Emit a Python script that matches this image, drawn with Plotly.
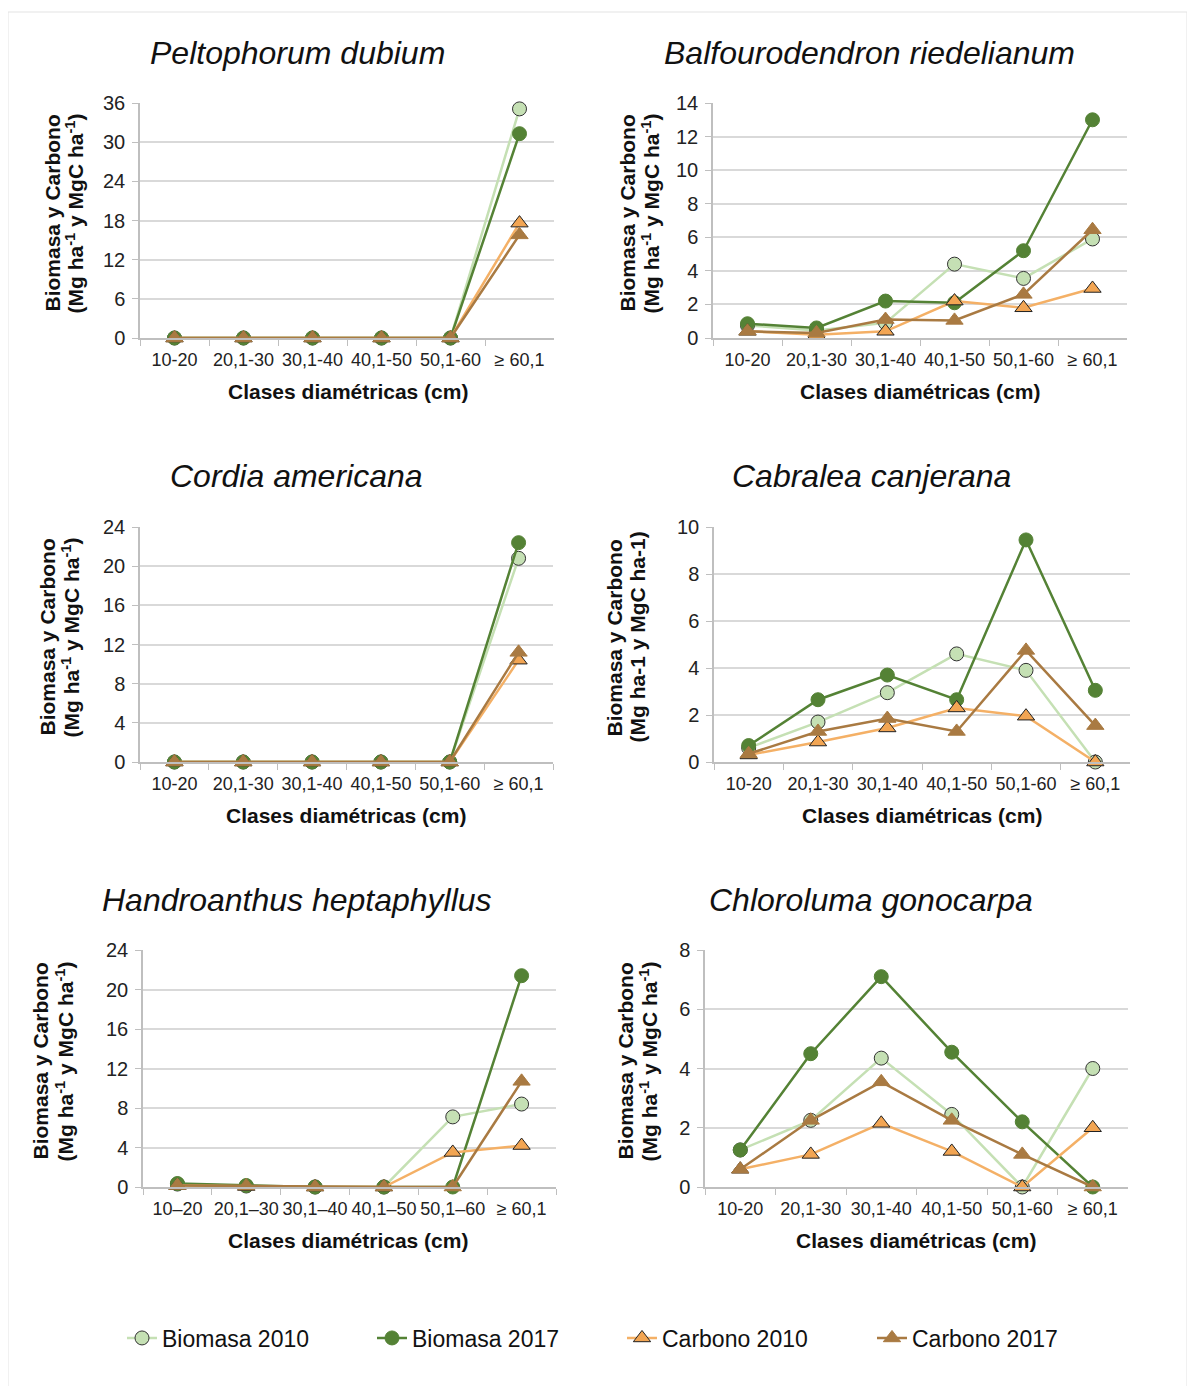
import plotly.graph_objects as go

W, H = 1195, 1386
OFF = 8  # page body margin offset in the browser

cats = ["10-20", "20,1-30", "30,1-40", "40,1-50", "50,1-60", "≥ 60,1"]
cats_dash = ["10–20", "20,1–30", "30,1–40", "40,1–50", "50,1–60", "≥ 60,1"]

series_names = ["Biomasa 2010", "Biomasa 2017", "Carbono 2010", "Carbono 2017"]

titles = ["Peltophorum dubium", "Balfourodendron riedelianum", "Cordia americana",
          "Cabralea canjerana", "Handroanthus heptaphyllus", "Chloroluma gonocarpa"]

# Peltophorum dubium
p1_b2010 = [0, 0, 0, 0, 0, 35.1]
p1_b2017 = [0, 0, 0, 0, 0, 31.3]
p1_c2010 = [0, 0, 0, 0, 0, 17.6]
p1_c2017 = [0, 0, 0, 0, 0, 15.8]
# Balfourodendron riedelianum
p2_b2010 = [0.75, 0.45, 0.9, 4.4, 3.55, 5.9]
p2_b2017 = [0.85, 0.6, 2.2, 2.1, 5.2, 13.0]
p2_c2010 = [0.4, 0.2, 0.4, 2.2, 1.8, 2.95]
p2_c2017 = [0.4, 0.3, 1.1, 1.05, 2.6, 6.45]
# Cordia americana
p3_b2010 = [0, 0, 0, 0, 0, 20.8]
p3_b2017 = [0, 0, 0, 0, 0, 22.4]
p3_c2010 = [0, 0, 0, 0, 0, 10.4]
p3_c2017 = [0, 0, 0, 0, 0, 11.2]
# Cabralea canjerana
p4_b2010 = [0.6, 1.7, 2.95, 4.6, 3.9, 0.0]
p4_b2017 = [0.7, 2.65, 3.7, 2.65, 9.45, 3.05]
p4_c2010 = [0.3, 0.85, 1.45, 2.3, 1.95, 0.0]
p4_c2017 = [0.35, 1.3, 1.85, 1.3, 4.75, 1.55]
# Handroanthus heptaphyllus
p5_b2010 = [0.3, 0.1, 0, 0, 7.1, 8.4]
p5_b2017 = [0.35, 0.15, 0, 0, 0, 21.4]
p5_c2010 = [0.15, 0.05, 0, 0, 3.5, 4.2]
p5_c2017 = [0.15, 0.1, 0, 0, 0, 10.7]
# Chloroluma gonocarpa
p6_b2010 = [1.25, 2.25, 4.35, 2.45, 0.0, 4.0]
p6_b2017 = [1.25, 4.5, 7.1, 4.55, 2.2, 0.0]
p6_c2010 = [0.6, 1.1, 2.15, 1.2, 0.0, 2.0]
p6_c2017 = [0.6, 2.25, 3.55, 2.25, 1.1, 0.0]

panels = [
    (p1_b2010, p1_b2017, p1_c2010, p1_c2017),
    (p2_b2010, p2_b2017, p2_c2010, p2_c2017),
    (p3_b2010, p3_b2017, p3_c2010, p3_c2017),
    (p4_b2010, p4_b2017, p4_c2010, p4_c2017),
    (p5_b2010, p5_b2017, p5_c2010, p5_c2017),
    (p6_b2010, p6_b2017, p6_c2010, p6_c2017),
]
panel_cats = [cats, cats, cats, cats, cats_dash, cats]
y_max = [36, 14, 24, 10, 24, 8]
y_dtick = [6, 2, 4, 2, 4, 2]

ytitle_l1 = "Biomasa y Carbono"
ytitle_sup = "(Mg ha<sup>-1</sup> y MgC ha<sup>-1</sup>)"
ytitle_plain = "(Mg ha-1 y MgC ha-1)"
ytitles2 = [ytitle_sup, ytitle_sup, ytitle_sup, ytitle_plain, ytitle_sup, ytitle_sup]

# layout (target pixels in the screenshot)
px_x = [(140, 554), (713, 1127), (140, 553), (714, 1130), (143, 556), (705, 1128)]
px_y = [(103, 338), (103, 338), (527, 762), (527, 762), (950, 1187), (950, 1187)]
ytitle_x = [(52, 74), (627, 650), (47, 70), (614, 637), (40, 64), (625, 648)]
title_xy = [(297, 53), (869, 53), (296, 476), (871, 476), (297, 900), (871, 900)]
xtitle_xy = [(348, 391), (920, 391), (346, 815), (922, 815), (348, 1240), (916, 1240)]


def fx(px):
    return (px - OFF) / W


def fy(py):
    return 1 - (py - OFF) / H


colors = ["#C5E0B4", "#548235", "#F4B066", "#A97A42"]
mfill = ["#C5E0B4", "#548235", "#F2A553", "#A97A42"]
mline = ["#333333", "#548235", "#222222", "#A97A42"]
symbols = ["circle", "circle", "triangle-up", "triangle-up"]
msize = [14, 14, 15, 15]

FONT = "Liberation Sans, Arial, sans-serif"

fig = go.Figure()
layout = {}
for i, data in enumerate(panels):
    ax = "" if i == 0 else str(i + 1)
    for s in range(4):
        fig.add_trace(go.Scatter(
            x=panel_cats[i], y=data[s], mode="lines+markers",
            name=series_names[s], legendgroup=series_names[s], showlegend=(i == 0),
            line=dict(color=colors[s], width=2.5),
            marker=dict(symbol=symbols[s], size=msize[s], color=mfill[s],
                        line=dict(color=mline[s], width=1)),
            cliponaxis=False,
            xaxis="x" + ax, yaxis="y" + ax,
        ))
    x0, x1 = px_x[i]
    yt, yb = px_y[i]
    layout["xaxis" + ax] = dict(
        domain=[fx(x0), fx(x1)], anchor="y" + ax, type="category",
        range=[-0.5, 5.5],
        tickson="boundaries", ticks="outside", ticklen=6, tickcolor="#BFBFBF",
        showline=True, linecolor="#BFBFBF", linewidth=1.5, showgrid=False,
        tickangle=0, ticklabelstandoff=5,
        tickfont=dict(size=18, color="#222222", family=FONT), fixedrange=True,
    )
    layout["yaxis" + ax] = dict(
        domain=[fy(yb), fy(yt)], anchor="x" + ax,
        range=[0, y_max[i]], dtick=y_dtick[i], tick0=0,
        ticks="outside", ticklen=6, tickcolor="#BFBFBF",
        showline=True, linecolor="#BFBFBF", linewidth=1.5, ticklabelstandoff=3,
        showgrid=True, gridcolor="#D9D9D9", gridwidth=1.5, zeroline=False,
        tickfont=dict(size=20, color="#222222", family=FONT),
    )

annotations = []
for i in range(6):
    tx, ty = title_xy[i]
    annotations.append(dict(
        x=fx(tx), y=fy(ty), xref="paper", yref="paper", showarrow=False,
        text="<i>" + titles[i] + "</i>", font=dict(size=32, color="#111111", family=FONT),
        xanchor="center", yanchor="middle"))
    yt, yb = px_y[i]
    for j, txt in enumerate([ytitle_l1, ytitles2[i]]):
        annotations.append(dict(
            x=fx(ytitle_x[i][j]), y=fy((yt + yb) / 2 - 7), xref="paper", yref="paper",
            showarrow=False, textangle=-90, text="<b>" + txt + "</b>",
            font=dict(size=21, color="#111111", family=FONT),
            xanchor="center", yanchor="middle"))
    xx, xy = xtitle_xy[i]
    annotations.append(dict(
        x=fx(xx), y=fy(xy), xref="paper", yref="paper",
        showarrow=False, text="<b>Clases diamétricas (cm)</b>",
        font=dict(size=21, color="#111111", family=FONT),
        xanchor="center", yanchor="middle"))

fig.update_layout(
    **layout,
    width=W, height=H,
    margin=dict(l=0, r=0, t=0, b=0, autoexpand=False),
    paper_bgcolor="white", plot_bgcolor="white",
    font=dict(family=FONT, color="#111111"),
    annotations=annotations,
    shapes=[dict(type="rect", xref="paper", yref="paper",
                 x0=fx(8), x1=fx(1187), y0=-0.01, y1=fy(12),
                 line=dict(color="#E3E3E3", width=1), layer="below")],
    legend=dict(orientation="h", x=fx(122), y=fy(1338), xanchor="left", yanchor="middle",
                font=dict(size=23, color="#111111", family=FONT),
                entrywidth=205, entrywidthmode="pixels", bgcolor="rgba(0,0,0,0)"),
)

fig.write_html("out.html")
